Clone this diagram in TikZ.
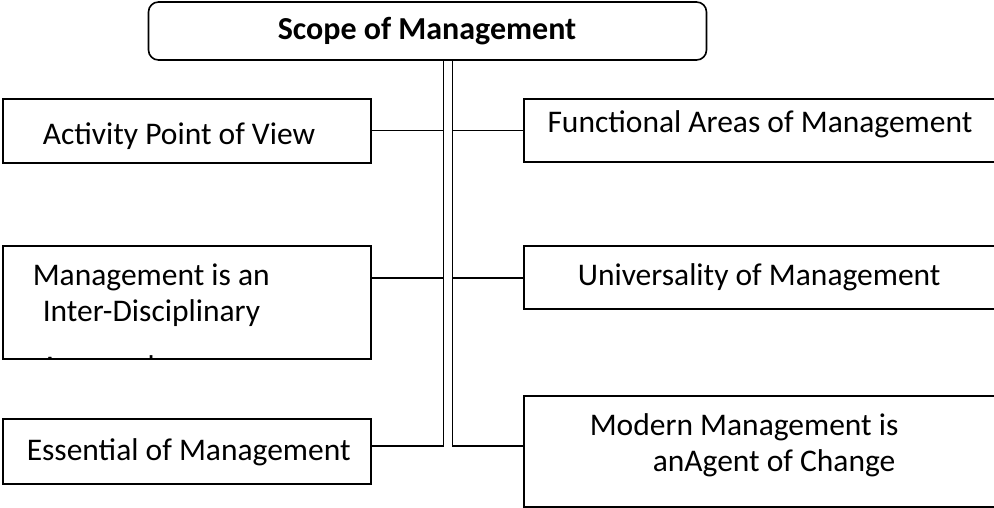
\documentclass[tikz,border=0pt]{standalone}
\usepackage{fontspec}
\setmainfont{Carlito}
\begin{document}
\begin{tikzpicture}[x=1pt,y=-1pt,
  line width=1.6pt,
  box/.style={draw, rectangle, inner sep=0, outer sep=0},
  lbl/.style={inner sep=0, anchor=base west, font=\fontsize{31.5}{37}\selectfont},
  head/.style={inner sep=0, anchor=base, font=\bfseries\fontsize{32}{38}\selectfont},
  link/.style={draw, line width=1.6pt}]
\useasboundingbox (0,0) rectangle (994,508);
\clip (0,0) rectangle (994,508);

% title box
\node[box, rounded corners=10pt, minimum width=558pt, minimum height=58pt] (title) at (427.5,31) {};
\node[head] (titletext) at (427,39.3) {Scope of Management};

% left column
\node[box, minimum width=368pt, minimum height=63.5pt] (act) at (187,131) {};
\node[box, minimum width=368pt, minimum height=113pt] (mgt) at (187,302.3) {};
\node[box, minimum width=368pt, minimum height=65pt] (ess) at (187,451.5) {};

% right column (runs past the right edge)
\node[box, minimum width=576pt, minimum height=63pt] (fun) at (812,130.5) {};
\node[box, minimum width=576pt, minimum height=63pt] (uni) at (812,277.3) {};
\node[box, minimum width=576pt, minimum height=111pt] (mod) at (812,451.5) {};

% labels
\node[lbl] (acttext) at (42,145) {Activity Point of View};
\node[lbl] (mgt1) at (32,285) {Management is an};
\node[lbl] (mgt2) at (42,321.7) {Inter-Disciplinary};
\begin{scope}
  \clip (mgt.north west) rectangle (mgt.south east);
  \node[lbl] (mgt3) at (40,377.5) {Approach};
\end{scope}
\node[lbl] (esstext) at (26,460) {Essential of Management};
\node[lbl] (funtext) at (546.7,133) {Functional Areas of Management};
\node[lbl] (unitext) at (577,285) {Universality of Management};
\node[lbl] (mod1) at (589,435) {Modern Management is};
\node[lbl] (mod2) at (652,471.7) {anAgent of Change};

% trunk junctions
\coordinate (L1) at (443.3,130.7);
\coordinate (L2) at (443.3,278);
\coordinate (L3) at (443.3,445.7);
\coordinate (R1) at (452.3,130.7);
\coordinate (R2) at (452.3,278);
\coordinate (R3) at (452.3,445.7);

% trunks and branches
\draw[link] (title.south -| L3) -- (L3) -- (L3 -| ess.east);
\draw[link] (title.south -| R3) -- (R3) -- (R3 -| mod.west);
\draw[link] (L1) -- (L1 -| act.east);
\draw[link] (L2) -- (L2 -| mgt.east);
\draw[link] (R1) -- (R1 -| fun.west);
\draw[link] (R2) -- (R2 -| uni.west);
\end{tikzpicture}
\end{document}
